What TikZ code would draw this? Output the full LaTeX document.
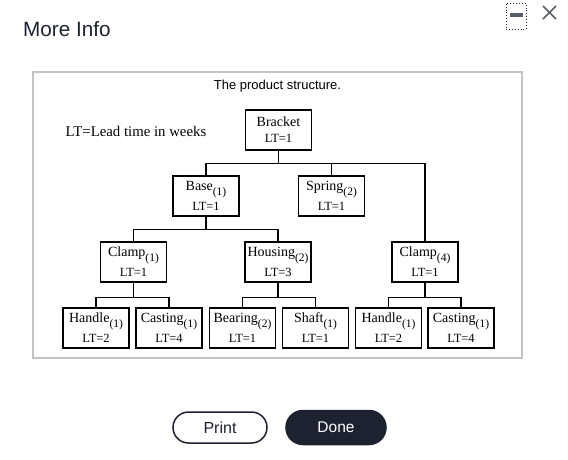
\documentclass[tikz,border=0pt]{standalone}
\usepackage{fontspec}
\setmainfont{Liberation Serif}
\newfontfamily\uisans{Liberation Sans}
\definecolor{navy}{HTML}{1D2231}
\definecolor{panelgray}{HTML}{C4C4C4}
\definecolor{icongray}{HTML}{55606B}
\newcommand\sbx[1]{\raisebox{-4.5pt}{\fontsize{11.5}{12}\selectfont(#1)}}
\tikzset{
  pbox/.style={draw=black, line width=1.1pt, minimum width=66pt, minimum height=40pt, inner sep=0pt},
  pname/.style={inner sep=0pt, font=\fontsize{14}{15}\selectfont},
  plt/.style={inner sep=0pt, font=\fontsize{12.5}{13}\selectfont},
  link/.style={draw=black, line width=1.1pt},
  btn/.style={rounded corners=15.5pt, minimum height=31pt, inner sep=0pt, line width=1.5pt},
}
\newcommand\partnode[5]{%
  \node[pbox] (#1) at (#2) {};
  \node[pname, anchor=base] (#1-n) at ([yshift=-15.5pt]#1.north) {#3\sbx{#4}};
  \node[plt, anchor=base] (#1-l) at ([yshift=-35.5pt]#1.north) {LT=#5};
}
\begin{document}
\begin{tikzpicture}[x=1pt,y=-1pt]
\useasboundingbox[fill=white] (0,0) rectangle (568,459);
% header
\node[anchor=west, inner sep=0pt, text=navy, font=\uisans\fontsize{20.7}{22}\selectfont] (title) at (23,29.5) {More Info};
\node[draw=navy, dotted, line width=0.9pt, minimum width=20pt, minimum height=26pt, inner sep=0pt] (minbox) at (516,16) {};
\node[fill=icongray, minimum width=13pt, minimum height=4.5pt, inner sep=0pt] (minbar) at (516.5,15) {};
\coordinate (xa) at (543,6); \coordinate (xb) at (556,19);
\coordinate (xc) at (543,19); \coordinate (xd) at (556,6);
\draw[icongray, line width=1.6pt] (xa) -- (xb) (xc) -- (xd);
% panel
\node[draw=panelgray, line width=1.2pt, minimum width=489pt, minimum height=286pt, inner sep=0pt] (panel) at (277.5,215) {};
\node[inner sep=0pt, font=\uisans\fontsize{13}{15}\selectfont] (caption) at (277.5,86) {The product structure.};
\node[anchor=west, inner sep=0pt, font=\fontsize{14.8}{16}\selectfont] (legend) at (65.5,131) {LT=Lead time in weeks};
% bracket
\node[pbox] (bracket) at (278.5,130) {};
\node[pname, anchor=base] (bracket-n) at ([yshift=-17pt]bracket.north) {Bracket};
\node[plt, anchor=base] (bracket-l) at ([yshift=-33pt]bracket.north) {LT=1};
% parts
\partnode{base}{206,196}{Base}{1}{1}
\partnode{spring}{331.5,196}{Spring}{2}{1}
\partnode{clampA}{133.5,262}{Clamp}{1}{1}
\partnode{housing}{278,262}{Housing}{2}{3}
\partnode{clampB}{425,262}{Clamp}{4}{1}
\partnode{handleA}{96,328}{Handle}{1}{2}
\partnode{castingA}{169,328}{Casting}{1}{4}
\partnode{bearing}{242.5,328}{Bearing}{2}{1}
\partnode{shaft}{315.5,328}{Shaft}{1}{1}
\partnode{handleB}{388.5,328}{Handle}{1}{2}
\partnode{castingB}{461,328}{Casting}{1}{4}
% connectors
\path[link] (bracket.south) -- ([yshift=-13pt]bracket.south) -| (base.north);
\path[link] ([yshift=-13pt]bracket.south) -| (spring.north);
\path[link] ([yshift=-13pt]bracket.south) -| (clampB.north);
\path[link] (base.south) -- ([yshift=-13pt]base.south) -| (clampA.north);
\path[link] ([yshift=-13pt]base.south) -| (housing.north);
\path[link] (clampA.south) -- ([yshift=-15pt]clampA.south) -| (handleA.north);
\path[link] ([yshift=-15pt]clampA.south) -| (castingA.north);
\path[link] (housing.south) -- ([yshift=-15pt]housing.south) -| (bearing.north);
\path[link] ([yshift=-15pt]housing.south) -| (shaft.north);
\path[link] (clampB.south) -- ([yshift=-15pt]clampB.south) -| (handleB.north);
\path[link] ([yshift=-15pt]clampB.south) -| (castingB.north);
% buttons
\node[btn, draw=navy, minimum width=94pt, text=navy, font=\uisans\fontsize{16}{18}\selectfont] (print) at (220,427.5) {Print};
\node[btn, fill=navy, draw=navy, minimum width=100pt, minimum height=34pt, rounded corners=17pt, text=white, font=\uisans\fontsize{15.5}{18}\selectfont] (done) at (336,427.5) {Done};
\end{tikzpicture}
\end{document}
